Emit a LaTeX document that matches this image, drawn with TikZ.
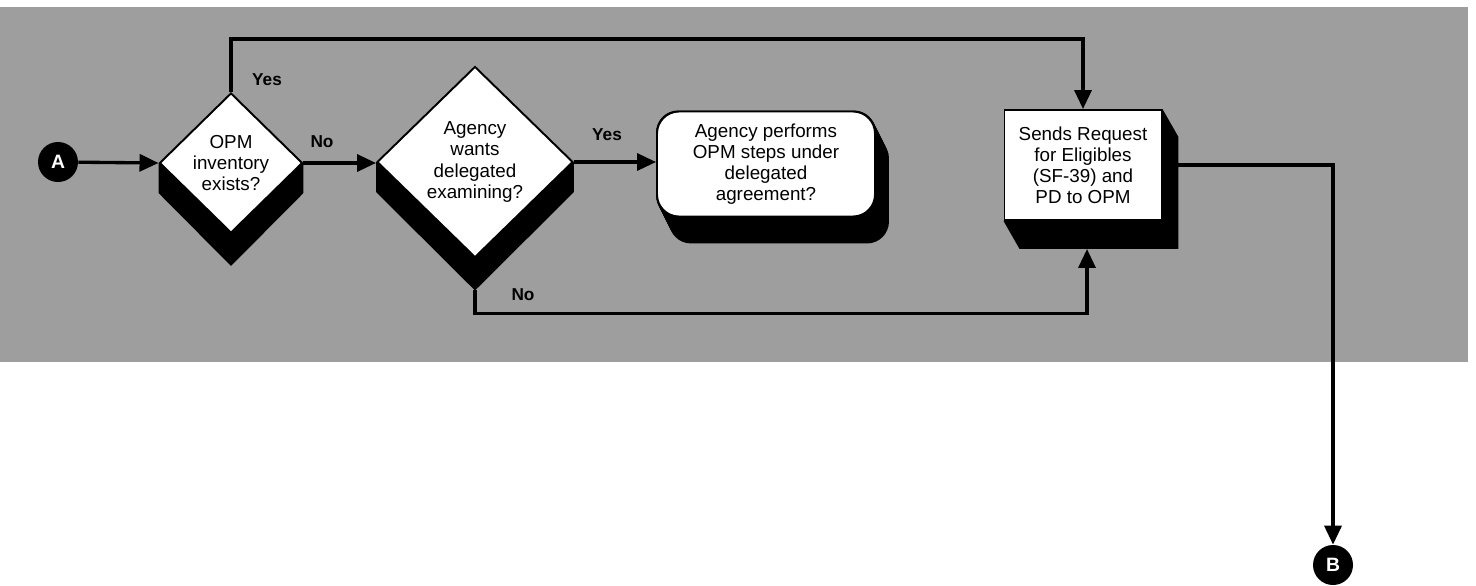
\documentclass[tikz,border=0pt]{standalone}
\usepackage{fontspec}
\setmainfont{Liberation Sans}
\usetikzlibrary{arrows.meta,positioning,calc,shapes.geometric}
\pgfdeclarelayer{bg}
\pgfsetlayers{bg,main}
\definecolor{screen}{gray}{0.62}
\newcommand{\boxtxt}{\fontsize{10.7}{12}\selectfont}
\tikzset{
  conn/.style={circle, fill=black, minimum size=8mm, inner sep=0pt, text=white, font=\fontsize{11}{12}\selectfont\bfseries},
  dec/.style={diamond, draw=black, line width=1.1pt, fill=white, inner sep=0pt, align=center, font=\boxtxt},
  proc/.style={rectangle, draw=black, line width=1.1pt, fill=white, align=center, font=\boxtxt},
  term/.style={rectangle, rounded corners=4.4mm, draw=black, line width=1.1pt, fill=white, align=center, font=\boxtxt},
  lbl/.style={font=\fontsize{9.8}{11}\selectfont\bfseries},
  arr/.style={-{Triangle[length=3.8mm,width=3.4mm]}, line width=1.9pt},
}

\begin{document}
\begin{tikzpicture}[x=0.2mm, y=-0.2mm]
  \useasboundingbox (0,0) rectangle (1476,585);
  % flow nodes
  \node[conn] (a) at (58,162) {A};
  \node[dec, minimum width=28.6mm, minimum height=28mm] (inv) at (231,163)
    {OPM\\inventory\\exists?};
  \node[dec, minimum width=39.2mm, minimum height=38.2mm] (deleg) at (475,162)
    {Agency\\wants\\delegated\\examining?};
  \node[term, minimum width=43.6mm, minimum height=21mm] (perf) at (766,164)
    {Agency performs\\OPM steps under\\delegated\\agreement?};
  \node[proc, minimum width=31.4mm, minimum height=22mm] (req) at (1083,165)
    {Sends Request\\for Eligibles\\(SF-39) and\\PD to OPM};
  \node[conn] (b) at (1333,565) {B};
  % screen and drop shadows
  \begin{pgfonlayer}{bg}
    \fill[screen] (0,7) rectangle (1468,362);
    \fill (inv.west) -- ++(0,30) -- ($(inv.south)+(0,32)$) -- ($(inv.east)+(0,30)$) -- (inv.east) -- cycle;
    \fill (deleg.west) -- ++(0,30) -- ($(deleg.south)+(0,32)$) -- ($(deleg.east)+(0,30)$) -- (deleg.east) -- cycle;
    \foreach \k in {0,1,...,13}
      \fill[rounded corners=4.4mm] ($(perf.south west)+(\k,2*\k)$) rectangle ($(perf.north east)+(\k,2*\k)$);
    \fill (req.north east) -- ++(16,28) -- ($(req.south east)+(16,28)$) -- ($(req.south west)+(16,28)$) -- (req.south west) -- cycle;
  \end{pgfonlayer}
  \coordinate (delb) at ($(deleg.south)+(0,32)$);
  \coordinate (reqb) at ($(req.south)+(4,28)$);
  % connectors
  \draw[arr] (a) -- (inv.west);
  \draw[arr] (inv.east) -- (inv.east -| deleg.west);
  \draw[arr] (inv.north) -- ++(0,-53) -| (req.north);
  \draw[arr] (deleg.east) -- (deleg.east -| perf.west);
  \draw[arr] (delb) -- ++(0,23) -| (reqb);
  \draw[arr] (req.east) -| (b.north);
  % branch labels
  \node[lbl] (yes1) at (267,80) {Yes};
  \node[lbl] (no1) at (322,142) {No};
  \node[lbl] (yes2) at (607,135) {Yes};
  \node[lbl] (no2) at (523,295) {No};
\end{tikzpicture}
\end{document}
